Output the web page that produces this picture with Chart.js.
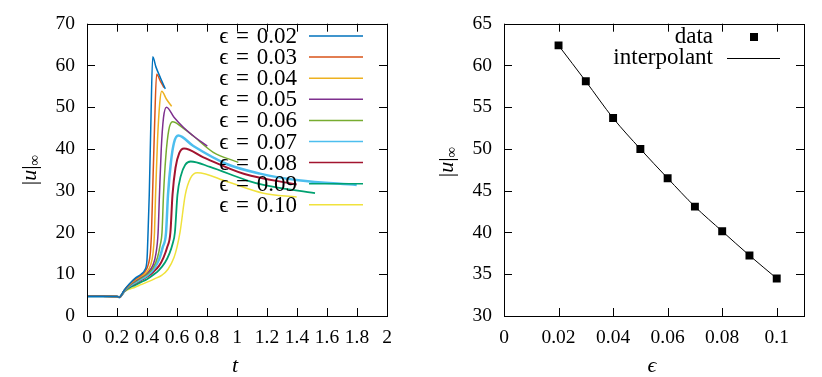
<!DOCTYPE html>
<html>
<head>
<meta charset="utf-8">
<script src="https://cdn.jsdelivr.net/npm/chart.js@4.4.1/dist/chart.umd.min.js"></script>
<style>
  html, body { margin: 0; padding: 0; background: #fff; }
  #wrap { position: relative; width: 822px; height: 377px; }
  canvas { position: absolute; top: 0; }
  #left { left: 0; }
  #right { left: 411px; }
</style>
</head>
<body>
<div id="wrap">
  <canvas id="left" width="411" height="377"></canvas>
  <canvas id="right" width="411" height="377"></canvas>
</div>
<script>
// left panel: |u|_inf against t, one curve per epsilon
const EPS_LABELS = ['0.02', '0.03', '0.04', '0.05', '0.06', '0.07', '0.08', '0.09', '0.10'];
const CURVE_COLORS = ['#0072BD', '#D95319', '#EDB120', '#7E2F8E', '#77AC30', '#4DBEEE', '#A2142F', '#00A170', '#F0E23C'];
const CURVE_WIDTHS = [1.5, 1.5, 1.5, 1.5, 1.5, 2.5, 2, 1.8, 1.5];

const T02 = [0, 0.1, 0.2, 0.215, 0.25, 0.28, 0.32, 0.36, 0.385, 0.40, 0.407, 0.415, 0.425, 0.438, 0.46, 0.49, 0.522];
const U02 = [4.7, 4.7, 4.65, 4.5, 6.3, 7.6, 9.0, 10.0, 11.0, 13.5, 20, 29, 45, 62.1, 59.6, 57.0, 54.4];

const T03 = [0, 0.1, 0.2, 0.215, 0.25, 0.28, 0.32, 0.36, 0.39, 0.41, 0.422, 0.43, 0.437, 0.45, 0.464, 0.49, 0.513];
const U03 = [4.7, 4.7, 4.65, 4.5, 6.25, 7.5, 8.8, 9.8, 10.8, 12.5, 15, 20, 29, 45, 57.9, 56.2, 54.7];

const T04 = [0, 0.1, 0.2, 0.215, 0.25, 0.28, 0.32, 0.36, 0.40, 0.425, 0.44, 0.45, 0.457, 0.47, 0.485, 0.498, 0.53, 0.564];
const U04 = [4.7, 4.7, 4.65, 4.5, 6.2, 7.4, 8.6, 9.5, 10.6, 12.3, 15, 20, 29, 42, 51, 53.8, 51.9, 50.2];

const T05 = [0, 0.1, 0.2, 0.215, 0.25, 0.28, 0.32, 0.36, 0.40, 0.44, 0.46, 0.474, 0.483, 0.495, 0.51, 0.53, 0.58, 0.642, 0.72, 0.802];
const U05 = [4.7, 4.7, 4.65, 4.5, 6.15, 7.3, 8.4, 9.3, 10.3, 12.2, 15, 20, 29, 40, 47.5, 50.0, 47.6, 45.2, 42.8, 40.7];

const T06 = [0, 0.1, 0.2, 0.215, 0.25, 0.28, 0.32, 0.36, 0.40, 0.44, 0.47, 0.488, 0.50, 0.51, 0.525, 0.545, 0.571, 0.63, 0.709, 0.842, 1.009];
const U06 = [4.7, 4.7, 4.65, 4.5, 6.1, 7.2, 8.2, 9.1, 10.0, 11.5, 14, 17, 20, 29, 38, 44.5, 46.5, 45.3, 43.1, 39.2, 36.8];

const T07 = [0, 0.1, 0.2, 0.215, 0.25, 0.28, 0.32, 0.36, 0.40, 0.44, 0.48, 0.505, 0.527, 0.54, 0.56, 0.58, 0.609, 0.709, 0.931, 1.153, 1.409, 1.798];
const U07 = [4.7, 4.7, 4.65, 4.5, 6.05, 7.1, 8.0, 8.8, 9.7, 11, 13.5, 16.5, 20, 29, 37, 41.5, 43.2, 40.7, 36.4, 34.1, 32.5, 31.4];

const T08 = [0, 0.1, 0.2, 0.215, 0.25, 0.28, 0.32, 0.36, 0.40, 0.44, 0.48, 0.51, 0.535, 0.556, 0.57, 0.59, 0.615, 0.647, 0.776, 1.05, 1.398];
const U08 = [4.7, 4.7, 4.65, 4.5, 6.0, 7.0, 7.8, 8.6, 9.4, 10.5, 12, 14, 16.5, 20, 29, 35.5, 39, 40.1, 38.0, 34.0, 31.5];

const T09 = [0, 0.1, 0.2, 0.215, 0.25, 0.28, 0.32, 0.36, 0.40, 0.44, 0.48, 0.52, 0.55, 0.57, 0.586, 0.603, 0.625, 0.655, 0.691, 0.82, 1.064, 1.176, 1.52];
const U09 = [4.7, 4.7, 4.65, 4.5, 5.9, 6.7, 7.4, 8.1, 8.8, 9.8, 11, 12.8, 15, 17.2, 20, 29, 33.5, 36.2, 37.0, 35.7, 32.5, 31.4, 29.4];

const T10 = [0, 0.1, 0.2, 0.215, 0.25, 0.28, 0.32, 0.36, 0.40, 0.45, 0.50, 0.54, 0.58, 0.60, 0.62, 0.655, 0.69, 0.735, 0.931, 1.176, 1.398];
const U10 = [4.7, 4.7, 4.65, 4.5, 5.8, 6.4, 6.9, 7.5, 8.1, 8.9, 9.8, 11.2, 14, 16.5, 20, 29, 33, 34.3, 32.2, 29.4, 28.5];

const T_SERIES = [T02, T03, T04, T05, T06, T07, T08, T09, T10];
const U_SERIES = [U02, U03, U04, U05, U06, U07, U08, U09, U10];

const T_TICKS = [0, 0.2, 0.4, 0.6, 0.8, 1, 1.2, 1.4, 1.6, 1.8, 2];
const U_TICKS = [0, 10, 20, 30, 40, 50, 60, 70];

// right panel: peak value against epsilon
const EPS = [0.02, 0.03, 0.04, 0.05, 0.06, 0.07, 0.08, 0.09, 0.10];
const UMAX = [62.4, 58.1, 53.7, 50.0, 46.5, 43.1, 40.15, 37.25, 34.5];
const EPS_TICKS = [0, 0.02, 0.04, 0.06, 0.08, 0.1];
const UMAX_TICKS = [30, 35, 40, 45, 50, 55, 60, 65];

const SERIF = '"Liberation Serif", "DejaVu Serif", serif';
const TICK_FONT = { family: SERIF, size: 19.5 };
const TICK_LEN = 8;

// gnuplot-style box with ticks pointing inwards on all four sides
const framePlugin = {
    id: 'frame',
    afterDraw(chart) {
        const { ctx, chartArea: a, scales: { x, y } } = chart;
        ctx.save();
        ctx.strokeStyle = '#000';
        ctx.lineWidth = 1;
        ctx.beginPath();
        x.ticks.forEach(t => {
            const px = Math.round(x.getPixelForValue(t.value)) + 0.5;
            ctx.moveTo(px, a.bottom); ctx.lineTo(px, a.bottom - TICK_LEN);
            ctx.moveTo(px, a.top); ctx.lineTo(px, a.top + TICK_LEN);
        });
        y.ticks.forEach(t => {
            const py = Math.round(y.getPixelForValue(t.value)) + 0.5;
            ctx.moveTo(a.left, py); ctx.lineTo(a.left + TICK_LEN, py);
            ctx.moveTo(a.right, py); ctx.lineTo(a.right - TICK_LEN, py);
        });
        ctx.stroke();
        ctx.strokeRect(Math.round(a.left) + 0.5, Math.round(a.top) + 0.5, Math.round(a.width), Math.round(a.height));
        ctx.restore();
    }
};

// axis titles: |u|_inf rotated on the left, italic symbol under the x axis
function drawYTitle(ctx, baseX, centerY) {
    ctx.save();
    ctx.translate(baseX, centerY);
    ctx.rotate(-Math.PI / 2);
    ctx.fillStyle = '#000';
    ctx.textBaseline = 'alphabetic';
    const parts = [
        { s: '|', font: `22px ${SERIF}`, dy: 0 },
        { s: 'u', font: `italic 22px ${SERIF}`, dy: 0 },
        { s: '|', font: `22px ${SERIF}`, dy: 0 },
        { s: '∞', font: `15px ${SERIF}`, dy: 3 }
    ];
    let total = 0;
    parts.forEach(p => { ctx.font = p.font; p.w = ctx.measureText(p.s).width; total += p.w; });
    let cx = -total / 2;
    parts.forEach(p => { ctx.font = p.font; ctx.fillText(p.s, cx, p.dy); cx += p.w; });
    ctx.restore();
}

function titlePlugin(xText, yBaseX, yCenterY) {
    return {
        id: 'titles',
        afterDraw(chart) {
            const { ctx, chartArea: a } = chart;
            ctx.save();
            ctx.fillStyle = '#000';
            ctx.font = `italic 22px ${SERIF}`;
            ctx.textAlign = 'center';
            ctx.textBaseline = 'middle';
            ctx.fillText(xText, (a.left + a.right) / 2 - 2, 366);
            ctx.restore();
            drawYTitle(ctx, yBaseX, yCenterY);
        }
    };
}

// key: text right-aligned, sample to its right
const leftKey = {
    id: 'leftKey',
    afterDatasetsDraw(chart) {
        const { ctx } = chart;
        ctx.save();
        ctx.font = `23px ${SERIF}`;
        ctx.textAlign = 'right';
        ctx.textBaseline = 'middle';
        chart.data.datasets.forEach((ds, i) => {
            const yy = 36 + i * 21.1;
            ctx.fillStyle = '#000';
            ctx.fillText('ϵ\u2004=\u2004' + EPS_LABELS[i], 297, yy + 1);
            ctx.strokeStyle = ds.borderColor;
            ctx.lineWidth = 1.5;
            ctx.beginPath();
            ctx.moveTo(309, yy);
            ctx.lineTo(363, yy);
            ctx.stroke();
        });
        ctx.restore();
    }
};

const rightKey = {
    id: 'rightKey',
    afterDatasetsDraw(chart) {
        const { ctx } = chart;
        ctx.save();
        ctx.font = `23px ${SERIF}`;
        ctx.textAlign = 'right';
        ctx.textBaseline = 'middle';
        ctx.fillStyle = '#000';
        ctx.fillText('data', 302, 37);
        ctx.fillText('interpolant', 302, 58);
        ctx.fillRect(339, 33, 8, 8);
        ctx.strokeStyle = '#000';
        ctx.lineWidth = 1;
        ctx.beginPath();
        ctx.moveTo(316, 58.5);
        ctx.lineTo(369, 58.5);
        ctx.stroke();
        ctx.restore();
    }
};

function axis(min, max, tickValues, fitProp, fitSize, padding) {
    return {
        type: 'linear',
        min, max,
        afterBuildTicks: s => { s.ticks = tickValues.map(v => ({ value: v })); },
        afterFit: s => { s[fitProp] = fitSize; },
        grid: { display: false, drawTicks: false },
        border: { display: false },
        ticks: { autoSkip: false, maxRotation: 0, color: '#000', font: TICK_FONT, padding, callback: v => String(v) }
    };
}

new Chart(document.getElementById('left'), {
    type: 'line',
    data: {
        datasets: T_SERIES.map((ts, i) => ({
            label: EPS_LABELS[i],
            data: ts.map((t, j) => ({ x: t, y: U_SERIES[i][j] })),
            borderColor: CURVE_COLORS[i],
            borderWidth: CURVE_WIDTHS[i],
            pointRadius: 0,
            cubicInterpolationMode: 'monotone',
            fill: false
        }))
    },
    options: {
        responsive: false,
        animation: false,
        layout: { padding: { top: 17, right: 24, left: 0, bottom: 0 } },
        plugins: { legend: { display: false }, tooltip: { enabled: false } },
        scales: {
            x: axis(0, 2, T_TICKS, 'height', 61, 10),
            y: axis(0, 70, U_TICKS, 'width', 87, 12)
        }
    },
    plugins: [framePlugin, leftKey, titlePlugin('t', 36, 170)]
});

new Chart(document.getElementById('right'), {
    type: 'line',
    data: {
        datasets: [
            {
                label: 'data',
                data: EPS.map((e, i) => ({ x: e, y: UMAX[i] })),
                showLine: false,
                pointStyle: 'rect',
                pointRadius: 5.6,
                pointBackgroundColor: '#000',
                pointBorderWidth: 0
            },
            {
                label: 'interpolant',
                data: EPS.map((e, i) => ({ x: e, y: UMAX[i] })),
                borderColor: '#000',
                borderWidth: 1,
                pointRadius: 0,
                cubicInterpolationMode: 'monotone'
            }
        ]
    },
    options: {
        responsive: false,
        animation: false,
        layout: { padding: { top: 17, right: 18, left: 0, bottom: 0 } },
        plugins: { legend: { display: false }, tooltip: { enabled: false } },
        scales: {
            x: axis(0, 0.11, EPS_TICKS, 'height', 61, 10),
            y: axis(30, 65, UMAX_TICKS, 'width', 93, 12)
        }
    },
    plugins: [framePlugin, rightKey, titlePlugin('ϵ', 42, 162)]
});
</script>
</body>
</html>
